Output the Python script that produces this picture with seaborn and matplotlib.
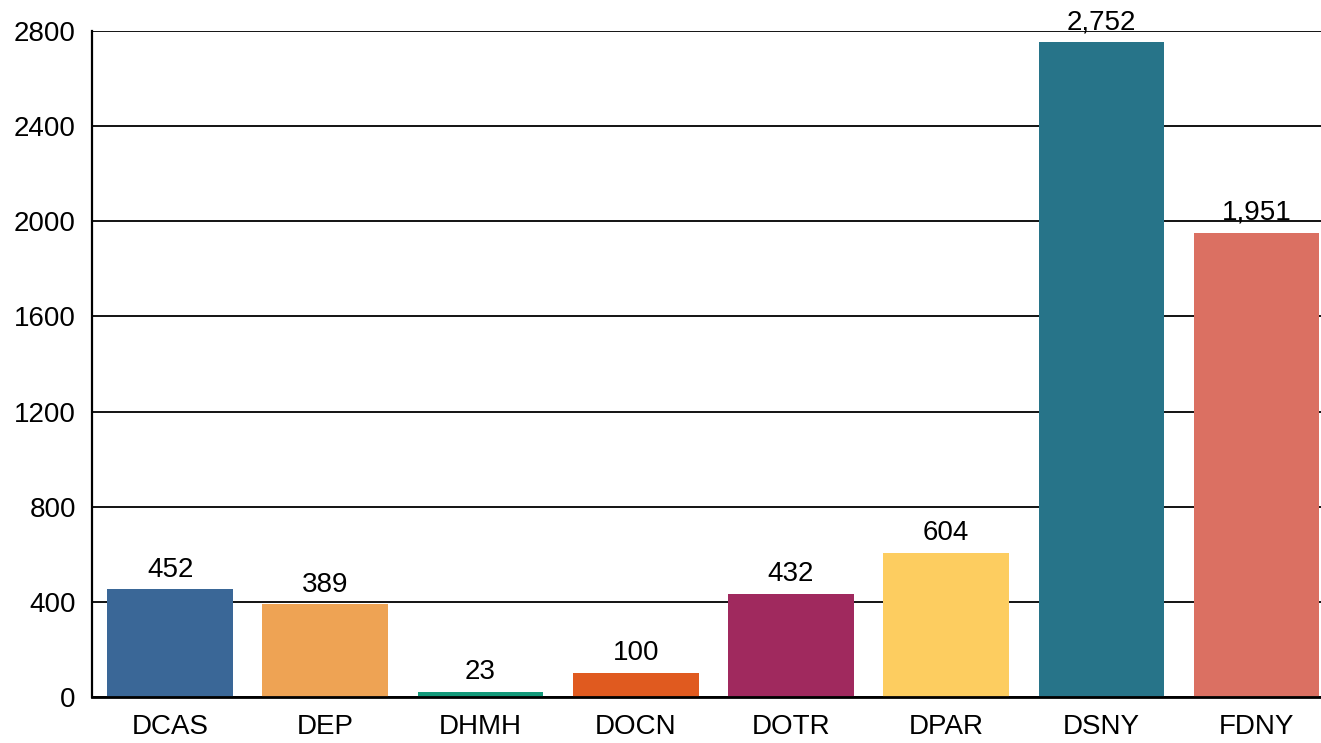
import matplotlib
matplotlib.use("Agg")
import matplotlib.pyplot as plt
import seaborn as sns
import pandas as pd

categories = ["DCAS", "DEP", "DHMH", "DOCN", "DOTR", "DPAR", "DSNY", "FDNY"]
values = [452, 389, 23, 100, 432, 604, 2752, 1951]
colors = ["#3A6797", "#EEA354", "#12997A", "#E05A1F", "#A0295E", "#FDCD60", "#277489", "#DB7062"]
yticks = [0, 400, 800, 1200, 1600, 2000, 2400, 2800]

sns.set_theme(style="white")
plt.rcParams['font.family'] = ['Liberation Sans', 'DejaVu Sans']

df = pd.DataFrame({"agency": categories, "count": values})

fig = plt.figure(figsize=(13.21, 7.43), dpi=100)
ax = fig.add_axes([0.0700, 0.0619, 0.940, 0.8964])

sns.barplot(data=df, x="agency", y="count", hue="agency", palette=colors,
            legend=False, width=0.81, ax=ax, saturation=1, zorder=2,
            linewidth=0, edgecolor="none")

ax.set_ylim(0, 2800)
ax.set_yticks(yticks)
ax.set_yticklabels([str(t) for t in yticks])
ax.yaxis.grid(True, color="black", linewidth=1.3, zorder=0)
ax.set_axisbelow(True)
ax.set_xlabel("")
ax.set_ylabel("")
ax.tick_params(axis="both", length=0, labelsize=20, colors="black")
ax.tick_params(axis="y", pad=12)
ax.tick_params(axis="x", pad=12)

for s in ["top", "right"]:
    ax.spines[s].set_visible(False)
ax.spines["left"].set_color("black")
ax.spines["left"].set_linewidth(1.6)
ax.spines["bottom"].set_color("black")
ax.spines["bottom"].set_linewidth(2)

for i, v in enumerate(values):
    ax.annotate(f"{v:,}", xy=(i, v), xytext=(0, 5), textcoords="offset points",
                ha="center", va="bottom", fontsize=20, color="black",
                annotation_clip=False)

fig.savefig("out.png", dpi=100)
